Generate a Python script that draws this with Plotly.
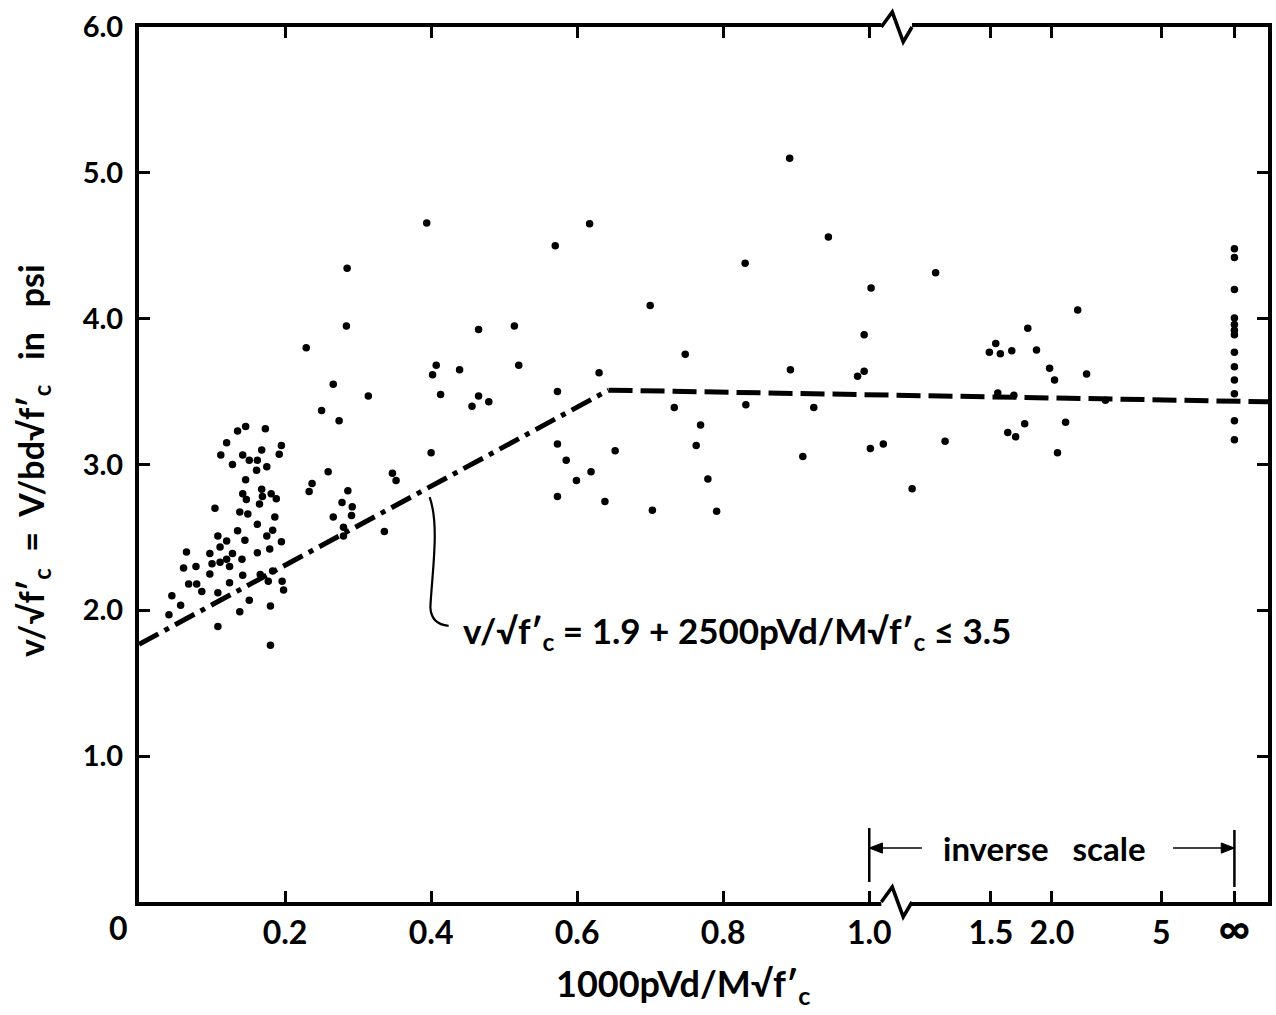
import numpy as np
import plotly.graph_objects as go

# ---------------- data ----------------
# test results with 1000*rho*V*d/(M*sqrt(f'c)) <= 1.0  (linear part of the x axis)
low_x = [0.250, 0.146, 0.135, 0.173, 0.120, 0.195, 0.192, 0.112, 0.142, 0.168,
         0.151, 0.162, 0.128, 0.175, 0.161, 0.259, 0.146, 0.237, 0.233, 0.142,
         0.147, 0.168, 0.169, 0.181, 0.188, 0.165, 0.149, 0.138, 0.104, 0.162,
         0.186, 0.183, 0.195, 0.135, 0.175, 0.145, 0.108, 0.120, 0.111, 0.179,
         0.065, 0.097, 0.162, 0.100, 0.111, 0.120, 0.124, 0.128, 0.141, 0.061,
         0.078, 0.097, 0.142, 0.166, 0.068, 0.079, 0.086, 0.124, 0.183, 0.196,
         0.198, 0.177, 0.045, 0.108, 0.151, 0.057, 0.138, 0.180, 0.041, 0.108,
         0.180,
         0.285, 0.284, 0.229, 0.266, 0.314, 0.274, 0.286, 0.278, 0.292, 0.266,
         0.291, 0.280, 0.280, 0.336, 0.347, 0.352,
         0.394, 0.617, 0.570, 0.700, 0.465, 0.514, 0.407, 0.402, 0.439, 0.520,
         0.630, 0.413, 0.465, 0.456, 0.479, 0.573, 0.733, 0.573, 0.585, 0.652,
         0.619, 0.599, 0.573, 0.638, 0.703, 0.400,
         0.891, 0.944, 0.830, 0.993, 0.748, 0.892, 0.984, 0.993, 0.831, 0.924,
         0.769, 0.763, 0.909, 0.779, 0.791]
low_y = [3.37, 3.26, 3.23, 3.245, 3.15, 3.13, 3.07, 3.065, 3.066, 3.10,
         3.03, 3.03, 3.00, 2.985, 2.96, 2.95, 2.895, 2.87, 2.815, 2.80,
         2.76, 2.83, 2.78, 2.80, 2.766, 2.73, 2.66, 2.675, 2.70, 2.59,
         2.64, 2.55, 2.47, 2.545, 2.51, 2.48, 2.51, 2.476, 2.435, 2.42,
         2.40, 2.39, 2.395, 2.32, 2.33, 2.35, 2.30, 2.39, 2.35, 2.29,
         2.30, 2.25, 2.24, 2.245, 2.18, 2.18, 2.13, 2.19, 2.27, 2.20,
         2.14, 2.20, 2.10, 2.12, 2.07, 2.035, 1.99, 2.03, 1.97, 1.89,
         1.76,
         4.345, 3.95, 3.80, 3.55, 3.47, 3.30, 2.82, 2.74, 2.71, 2.64,
         2.65, 2.57, 2.51, 2.54, 2.94, 2.89,
         4.656, 4.65, 4.50, 4.09, 3.925, 3.95, 3.68, 3.615, 3.65, 3.68,
         3.63, 3.48, 3.47, 3.40, 3.43, 3.50, 3.39, 3.14, 3.03, 3.095,
         2.95, 2.89, 2.78, 2.746, 2.686, 3.08,
         5.10, 4.56, 4.38, 3.89, 3.756, 3.65, 3.606, 3.64, 3.41, 3.39,
         3.27, 3.13, 3.055, 2.90, 2.68]

# test results on the inverse part of the x axis (x > 1.0)
inv_x = [1.222, 1.005, 1.003, 1.04, 1.262, 1.133, 2.33, 1.767, 1.53, 1.49,
         1.56, 1.64, 1.845, 1.976, 2.03, 2.47, 1.543, 1.656, 2.83, 1.741,
         1.611, 1.669, 2.163, 2.064]
inv_y = [4.315, 4.21, 3.11, 3.14, 3.16, 2.834, 4.06, 3.935, 3.83, 3.77,
         3.76, 3.78, 3.785, 3.66, 3.58, 3.62, 3.49, 3.475, 3.44, 3.28,
         3.22, 3.19, 3.29, 3.08]

# test results at x = infinity
inf_y = [4.48, 4.42, 4.20, 4.005, 3.96, 3.92, 3.89, 3.77, 3.67, 3.58,
         3.485, 3.30, 3.17]

# design line as drawn (x in axis units, y)
design_x = [0.0, 0.643, 1.546]
design_y = [1.767, 3.51, 3.43]

x_tick_values = [0.2, 0.4, 0.6, 0.8, 1.0, 1.5, 2.0, 5.0, np.inf]
x_tick_labels = ["0.2", "0.4", "0.6", "0.8", "1.0", "1.5", "2.0", "5",
                 "<span style='font-size:44px'>∞</span>"]
y_tick_values = [1, 2, 3, 4, 5, 6]
y_tick_labels = ["1.0", "2.0", "3.0", "4.0", "5.0", "6.0"]

# ---------------- scale helpers ----------------
INV_K = 0.5      # axis length used by the inverse scale from 1.0 to infinity
X_MAX = 1.546
BREAK_U = 1.0375


def axis_pos(v):
    v = np.asarray(v, dtype=float)
    with np.errstate(divide="ignore"):
        inv = 1.0 + INV_K * (1.0 - 1.0 / v)
    return np.where(v <= 1.0, v, inv)


FONT = "Lato"
BLACK = "#000000"

all_x = list(low_x) + list(inv_x) + [np.inf] * len(inf_y)
all_y = list(low_y) + list(inv_y) + list(inf_y)

fig = go.Figure()
fig.add_trace(go.Scatter(
    x=axis_pos(all_x), y=all_y, mode="markers",
    marker=dict(size=7.5, color=BLACK), showlegend=False, hoverinfo="skip"))
fig.add_trace(go.Scatter(
    x=design_x[:2], y=design_y[:2], mode="lines",
    line=dict(color=BLACK, width=5, dash="22px,7px,5px,7px"),
    showlegend=False, hoverinfo="skip"))
fig.add_trace(go.Scatter(
    x=design_x[1:], y=design_y[1:], mode="lines",
    line=dict(color=BLACK, width=5, dash="24px,8px"),
    showlegend=False, hoverinfo="skip"))

axis_common = dict(showline=True, linewidth=4, linecolor=BLACK, mirror="ticks",
                   ticks="inside", ticklen=11, tickwidth=3, tickcolor=BLACK,
                   showgrid=False, zeroline=False, fixedrange=True)

fig.update_xaxes(range=[0, X_MAX], tickmode="array",
                 tickvals=axis_pos(x_tick_values), ticktext=x_tick_labels,
                 tickfont=dict(family=FONT, size=32, color=BLACK, weight="bold"),
                 ticklabelstandoff=0, **axis_common)
fig.update_yaxes(range=[0, 6], tickmode="array",
                 tickvals=y_tick_values, ticktext=y_tick_labels,
                 tickfont=dict(family=FONT, size=29, color=BLACK, weight="bold"),
                 ticklabelstandoff=6, **axis_common)

# axis break symbols (bottom and top)
zig_dx = [-0.021, -0.006, 0.009, 0.021]
zig_dy = [0.0, 0.0171, -0.0171, 0.0]
shapes = []
for base in (0.0, 1.0):
    shapes.append(dict(type="rect", xref="x", yref="paper",
                       x0=BREAK_U + zig_dx[0], x1=BREAK_U + zig_dx[-1],
                       y0=base - 0.006, y1=base + 0.006,
                       fillcolor="white", line=dict(width=0), layer="above"))
    pts = [f"{BREAK_U + dx},{base + dy}" for dx, dy in zip(zig_dx, zig_dy)]
    shapes.append(dict(type="path", xref="x", yref="paper",
                       path="M " + " L ".join(pts),
                       line=dict(color=BLACK, width=3.5), layer="above"))

# "inverse scale" bracket bars and arrows
u_one = float(axis_pos(1.0))
u_inf = float(axis_pos(np.inf))
shapes.append(dict(type="line", xref="x", yref="y", x0=u_one, x1=u_one,
                   y0=0.137, y1=0.507, line=dict(color=BLACK, width=2.5)))
shapes.append(dict(type="line", xref="x", yref="y", x0=u_inf, x1=u_inf,
                   y0=0.103, y1=0.494, line=dict(color=BLACK, width=2.5)))
ARROW_Y = 0.37
HEAD_L = 0.018   # arrow head length (axis units)
HEAD_H = 0.035   # arrow head half height (y units)
for head, tail in ((u_one, 1.072), (u_inf, 1.416)):
    d = 1 if tail > head else -1
    shapes.append(dict(type="line", xref="x", yref="y", x0=tail, x1=head,
                       y0=ARROW_Y, y1=ARROW_Y, line=dict(color=BLACK, width=1.6)))
    shapes.append(dict(type="path", xref="x", yref="y",
                       path=(f"M {head},{ARROW_Y} L {head + d * HEAD_L},{ARROW_Y + HEAD_H} "
                             f"L {head + d * HEAD_L},{ARROW_Y - HEAD_H} Z"),
                       fillcolor=BLACK, line=dict(color=BLACK, width=1)))

# leader from design line to its equation
shapes.append(dict(type="path", xref="x", yref="y",
                   path="M 0.398,2.777 C 0.412,2.58 0.401,2.25 0.399,2.02 "
                        "Q 0.400,1.905 0.424,1.893",
                   line=dict(color=BLACK, width=2.2)))

annotations = [
    dict(text="0", xref="paper", yref="paper", x=-0.0185, y=-0.0297,
         showarrow=False, font=dict(family=FONT, size=32, color=BLACK, weight="bold"),
         xanchor="center", yanchor="middle"),
    dict(text="1000pVd/M√f′<sub>c</sub>", xref="paper", yref="paper",
         x=0.482, y=-0.095, showarrow=False,
         font=dict(family=FONT, size=36, color=BLACK, weight="bold"),
         xanchor="center", yanchor="middle"),
    dict(text="v/√f′<sub>c</sub>  =  V/bd√f′<sub>c</sub>   in   psi", xref="paper",
         yref="paper", x=-0.094, y=0.505, textangle=-90, showarrow=False,
         font=dict(family=FONT, size=34, color=BLACK, weight="bold"),
         xanchor="center", yanchor="middle"),
    dict(text="v/√f′<sub>c</sub> = 1.9 + 2500pVd/M√f′<sub>c</sub> ≤ 3.5",
         xref="x", yref="y", x=0.4407, y=1.85, showarrow=False,
         font=dict(family=FONT, size=35, color=BLACK, weight="bold"),
         xanchor="left", yanchor="middle"),
    dict(text="inverse   scale", xref="x", yref="y", x=1.2395, y=0.37,
         showarrow=False, font=dict(family=FONT, size=33, color=BLACK, weight="bold"),
         xanchor="center", yanchor="middle"),
]

fig.update_layout(
    width=1276, height=1015,
    margin=dict(l=139, r=4, t=27, b=113),
    paper_bgcolor="white", plot_bgcolor="white",
    shapes=shapes, annotations=annotations,
    font=dict(family=FONT, color=BLACK),
)

fig.write_html("out.html", config={"displayModeBar": False})
